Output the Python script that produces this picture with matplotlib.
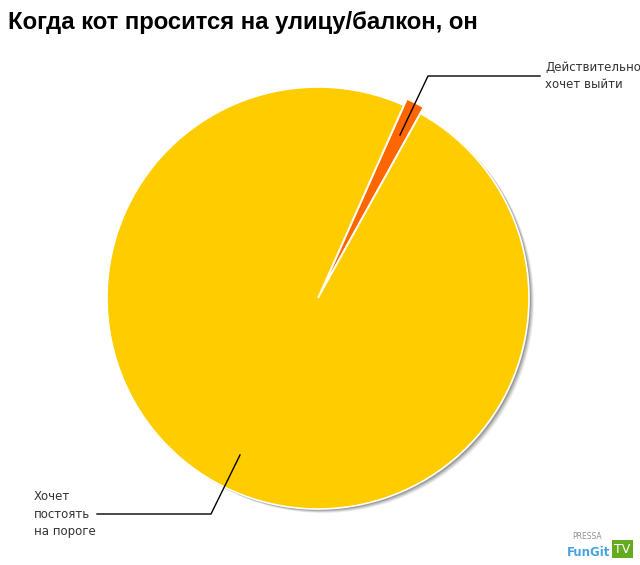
import numpy as np
import matplotlib.pyplot as plt
from matplotlib.patches import Circle

# shares of cats (percent)
labels = ["Действительно\nхочет выйти", "Хочет\nпостоять\nна пороге"]
values = [1.4, 98.6]
colors = ["#FF6600", "#FFCC00"]

title = "Когда кот просится на улицу/балкон, он"

fig = plt.figure(figsize=(6.4, 5.65), dpi=100)
ax = fig.add_axes([0, 0, 1, 1])

# pie geometry in pixel units of the figure
cx, cy, r = 318, 267, 211
explode = [7, 0]  # matplotlib explode is in data units here

# soft shadow on the lower right
for k, a in [(5, 0.10), (4, 0.15), (3, 0.2), (2, 0.3)]:
    ax.add_patch(Circle((cx + k, cy - k * 0.8), r, color="#555555", alpha=a, lw=0, zorder=1))

ax.pie(values, colors=colors, explode=explode, startangle=66.0, counterclock=False,
       center=(cx, cy), radius=r, frame=True,
       wedgeprops=dict(edgecolor="white", linewidth=1.2, zorder=2))
ax.set_xlim(0, 640)
ax.set_ylim(0, 565)
ax.set_aspect("equal")
ax.axis("off")

# leader lines
ax.plot([400, 428, 540], [565 - 135, 565 - 76, 565 - 76], color="black", lw=1, zorder=5)
ax.plot([240, 211, 97], [565 - 455, 565 - 514, 565 - 514], color="black", lw=1, zorder=5)

ax.text(545, 565 - 76, labels[0], fontsize=8.5, color="#333333", va="center",
        ha="left", linespacing=1.45)
ax.text(34, 565 - 514, labels[1], fontsize=8.5, color="#333333", va="center",
        ha="left", linespacing=1.45)

fig.text(8 / 640, 1 - 22 / 565, title, fontsize=17.2, fontweight="bold",
         family="Liberation Sans", va="center", ha="left")

# small watermark
fig.text(0.985, 0.028, "TV", fontsize=9, color="white", ha="right", va="center",
         bbox=dict(boxstyle="square,pad=0.2", fc="#66AA22", ec="none"))
fig.text(0.953, 0.022, "FunGit", fontsize=8.5, fontweight="bold", color="#3399DD",
         ha="right", va="center", alpha=0.9)
fig.text(0.94, 0.05, "PRESSA", fontsize=5.5, color="#777777", ha="right", va="center", alpha=0.8)

fig.savefig("out.png", dpi=100)
